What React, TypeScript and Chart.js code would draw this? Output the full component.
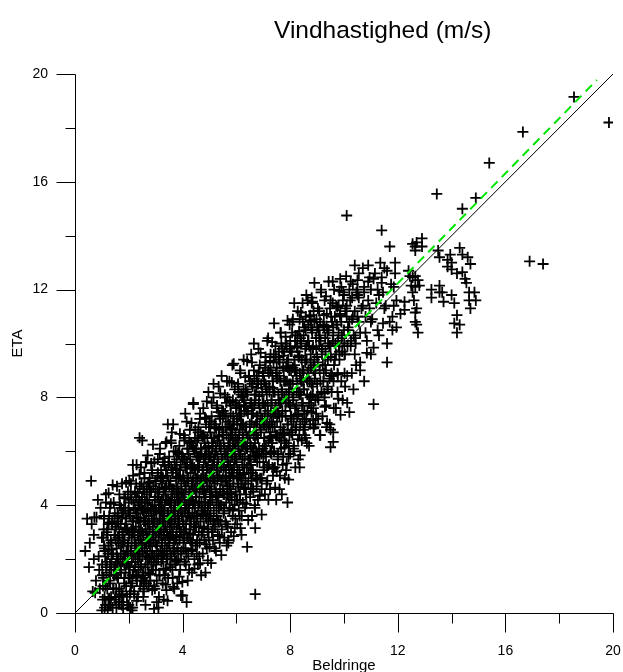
import React, { useEffect, useRef } from 'react';
import { Chart, registerables } from 'chart.js';

Chart.register(...registerables);

const chartTitle = 'Vindhastighed (m/s)';
const xTitle = 'Beldringe';
const yTitle = 'ETA';
const majorTicks = [0, 4, 8, 12, 16, 20];
const minorTicks = [2, 6, 10, 14, 18];
const identityLine: [number, number][] = [[0, 0], [20, 20]];
const fitLine: [number, number][] = [[0.65, 0.66], [19.4, 19.78]];

// Beldringe (x) vs ETA (y) wind speed pairs, m/s
const calmWind: [number, number][] = [
  [0.38,2.3],[0.45,3.5],[0.52,1.7],[0.6,4.9],[0.66,0.8],[0.7,2.9],[0.72,3.55],[0.78,1.2],[0.75,0.75],[0.88,2.1],[0.95,3.9],[0.55,2.6],[0.9,1.6],[0.92,0.9],[0.8,3.55],[0.7,2.0],[0.85,4.2],[0.62,3.3],
  [1.02,1.4],[1.05,2.8],[1.08,3.6],[1.1,0.6],[1.12,2.1],[1.15,4.4],[1.18,1.9],[1.2,3.1],[1.22,0.1],[1.25,2.5],[1.27,1.2],[1.3,3.9],[1.31,0.3],[1.33,2.7],[1.35,1.6],[1.38,3.4],[1.4,2.2],[1.42,0.9],[1.44,4.1],[1.45,1.4],[1.47,2.9],[1.48,3.7],[1.49,0.5],[1.36,2.0],[1.24,3.3],[1.25,4.45],
  [1.51,1.8],[1.52,3.2],[1.53,0.9],[1.55,2.4],[1.56,4.7],[1.58,1.3],[1.6,3.6],[1.61,2.0],[1.63,0.4],[1.65,2.9],[1.66,4.0],[1.68,1.6],[1.7,3.3],[1.71,2.5],[1.73,0.8],[1.75,4.8],[1.76,1.9],[1.78,3.0],[1.8,2.2],[1.81,3.8],[1.83,1.1],[1.85,2.7],[1.86,4.3],[1.88,1.5],[1.9,3.5],[1.91,2.3],[1.93,0.6],[1.95,3.1],[1.96,1.9],[1.97,4.5],[1.98,2.6],[1.99,1.3],[1.62,2.8],[1.72,3.9],[1.84,2.0],
  [2.0,0.3],[2.01,2.9],[2.02,4.9],[2.04,1.7],[2.05,3.6],[2.06,2.3],[2.08,1.0],[2.1,4.2],[2.11,2.8],[2.13,3.4],[2.14,1.4],[2.16,5.1],[2.17,2.1],[2.19,3.9],[2.2,0.7],[2.22,2.6],[2.23,4.5],[2.25,1.9],[2.26,3.2],[2.28,2.4],[2.29,5.5],[2.3,1.2],[2.32,3.7],[2.33,2.9],[2.35,4.0],[2.36,1.6],[2.38,3.0],[2.39,2.2],[2.4,6.5],[2.41,4.7],[2.42,1.0],[2.43,3.5],[2.44,2.7],[2.45,5.4],[2.46,1.8],[2.47,3.9],[2.48,2.5],[2.49,4.3],[2.12,3.0],[2.18,1.6],[2.27,4.8],[2.34,2.0],[2.37,3.4],[2.21,2.9],[2.45,3.1],[2.05,0.2],
  [2.5,6.4],[2.51,2.1],[2.52,3.8],[2.53,1.3],[2.54,4.6],[2.55,2.9],[2.56,0.8],[2.57,3.4],[2.58,5.2],[2.59,2.4],[2.6,4.1],[2.61,1.7],[2.62,3.1],[2.63,5.6],[2.64,2.6],[2.65,3.7],[2.66,1.1],[2.67,4.4],[2.68,2.2],[2.69,3.3],[2.7,5.85],[2.71,2.8],[2.72,4.8],[2.73,1.5],[2.74,3.6],[2.75,2.0],[2.76,4.2],[2.77,3.0],[2.78,5.0],[2.79,2.5],[2.8,1.2],[2.81,3.9],[2.82,2.7],[2.83,4.5],[2.84,1.9],[2.85,3.5],[2.86,5.3],[2.87,2.3],[2.88,4.0],[2.89,3.2],[2.9,1.6],[2.91,4.7],[2.92,2.9],[2.93,3.8],[2.94,2.1],[2.95,5.6],[2.96,3.4],[2.97,0.9],[2.98,4.3],[2.99,2.6],
  [3.0,3.0],[3.01,4.9],[3.02,1.8],[3.03,3.7],[3.04,0.4],[3.05,2.5],[3.06,4.3],[3.07,3.3],[3.08,5.7],[3.09,2.0],[3.1,0.2],[3.11,3.9],[3.12,2.8],[3.13,4.6],[3.14,1.4],[3.15,3.5],[3.16,6.1],[3.17,2.3],[3.18,4.1],[3.19,3.1],[3.2,5.3],[3.21,1.9],[3.22,3.8],[3.23,2.6],[3.24,4.8],[3.25,3.4],[3.26,1.1],[3.27,5.0],[3.28,2.9],[3.29,4.4],[3.3,0.5],[3.31,3.6],[3.32,2.2],[3.33,5.5],[3.34,4.0],[3.35,2.7],[3.36,3.2],[3.37,6.3],[3.38,1.6],[3.39,4.7],[3.4,0.85],[3.41,3.0],[3.42,2.4],[3.43,5.1],[3.44,3.7],[3.45,7.0],[3.46,1.3],[3.47,4.2],[3.48,2.8],[3.49,3.5],[3.12,4.0],[3.22,2.1],[3.36,4.5],[3.44,2.0],[3.28,3.8],
  [3.5,5.8],[3.51,2.5],[3.52,4.1],[3.53,3.2],[3.54,1.7],[3.55,4.9],[3.56,2.9],[3.57,6.4],[3.58,3.6],[3.59,2.1],[3.6,6.7],[3.61,4.4],[3.62,3.0],[3.63,1.3],[3.64,5.2],[3.65,0.97],[3.66,3.8],[3.67,2.6],[3.68,4.6],[3.69,3.3],[3.7,5.6],[3.71,2.2],[3.72,4.0],[3.73,1.9],[3.74,3.5],[3.75,6.0],[3.76,2.8],[3.77,4.7],[3.78,3.1],[3.79,5.3],[3.8,1.1],[3.81,4.2],[3.82,2.4],[3.83,3.7],[3.84,5.0],[3.85,2.0],[3.86,4.5],[3.87,3.4],[3.88,6.2],[3.89,2.7],[3.9,4.1],[3.91,1.6],[3.92,3.9],[3.93,5.5],[3.94,3.0],[3.95,4.8],[3.96,2.3],[3.97,3.6],[3.98,5.9],[3.99,1.15],[3.58,4.3],[3.68,2.3],[3.78,4.4],[3.88,3.2],[3.96,4.4]
];

const moderateWind: [number, number][] = [
  [4.0,0.65],[4.01,3.4],[4.02,5.1],[4.03,2.6],[4.04,4.4],[4.05,6.6],[4.06,3.0],[4.07,1.9],[4.08,5.7],[4.09,3.8],[4.1,7.4],[4.11,2.4],[4.12,4.7],[4.13,3.3],[4.14,5.4],[4.15,0.4],[4.16,4.0],[4.17,2.8],[4.18,6.1],[4.19,3.6],[4.2,4.9],[4.21,2.1],[4.22,5.9],[4.23,3.9],[4.24,1.6],[4.25,4.5],[4.26,3.1],[4.27,6.8],[4.28,2.7],[4.29,5.2],[4.3,4.2],[4.31,3.5],[4.32,6.3],[4.33,2.3],[4.34,4.8],[4.35,1.5],[4.36,3.7],[4.37,5.5],[4.38,4.1],[4.39,2.9],[4.4,7.8],[4.41,5.0],[4.42,3.3],[4.43,4.6],[4.44,2.0],[4.45,6.0],[4.46,3.9],[4.47,5.3],[4.48,2.5],[4.49,4.3],[4.06,4.9],[4.16,5.6],[4.26,4.1],[4.36,2.6],[4.46,6.5],
  [4.5,3.2],[4.51,5.8],[4.52,4.5],[4.53,2.2],[4.54,6.4],[4.55,3.6],[4.56,5.1],[4.57,1.8],[4.58,4.0],[4.59,6.9],[4.6,3.0],[4.61,5.5],[4.62,4.3],[4.63,2.6],[4.64,7.2],[4.65,1.85],[4.66,4.8],[4.67,3.4],[4.68,6.1],[4.69,5.0],[4.7,2.9],[4.71,4.1],[4.72,6.6],[4.73,3.7],[4.74,5.3],[4.75,2.2],[4.76,4.6],[4.77,7.6],[4.78,3.2],[4.79,5.7],[4.8,4.3],[4.81,2.7],[4.82,6.3],[4.83,3.9],[4.84,5.0],[4.85,1.5],[4.86,4.4],[4.87,7.0],[4.88,3.5],[4.89,5.9],[4.9,2.4],[4.91,4.9],[4.92,6.5],[4.93,3.1],[4.94,5.4],[4.95,4.0],[4.96,8.2],[4.97,2.8],[4.98,6.0],[4.99,4.7],[4.55,4.9],[4.65,5.8],[4.75,3.8],[4.85,5.6],[4.95,3.4],
  [5.0,2.45],[5.01,5.2],[5.02,4.1],[5.03,6.7],[5.04,3.5],[5.05,5.8],[5.06,1.85],[5.07,4.6],[5.08,7.3],[5.09,3.0],[5.1,5.5],[5.11,4.3],[5.12,6.2],[5.13,2.7],[5.14,5.0],[5.15,8.0],[5.16,3.8],[5.17,6.5],[5.18,4.8],[5.19,3.3],[5.2,3.2],[5.21,5.9],[5.22,7.0],[5.23,4.4],[5.24,2.3],[5.25,6.0],[5.26,5.3],[5.27,3.6],[5.28,7.7],[5.29,4.9],[5.3,6.4],[5.31,2.9],[5.32,5.6],[5.33,4.1],[5.34,8.4],[5.35,3.9],[5.36,6.8],[5.37,5.1],[5.38,2.6],[5.39,4.6],[5.4,7.2],[5.41,3.4],[5.42,6.1],[5.43,5.4],[5.44,4.0],[5.45,8.8],[5.46,3.1],[5.47,5.7],[5.48,6.6],[5.49,4.5],
  [5.5,5.0],[5.51,7.5],[5.52,3.7],[5.53,6.3],[5.54,4.4],[5.55,2.8],[5.56,5.8],[5.57,8.1],[5.58,4.9],[5.59,3.4],[5.6,6.9],[5.61,5.3],[5.62,4.1],[5.63,7.8],[5.64,2.5],[5.65,6.0],[5.66,4.7],[5.67,5.6],[5.68,3.2],[5.69,7.1],[5.7,2.6],[5.71,6.5],[5.72,4.3],[5.73,5.1],[5.74,8.6],[5.75,3.9],[5.76,6.2],[5.77,5.5],[5.78,4.6],[5.79,7.4],[5.8,3.0],[5.81,5.9],[5.82,6.8],[5.83,4.2],[5.84,5.2],[5.85,9.2],[5.86,3.6],[5.87,6.4],[5.88,4.8],[5.89,7.0],[5.9,2.85],[5.91,5.4],[5.92,6.1],[5.93,4.0],[5.94,8.3],[5.95,5.7],[5.96,3.5],[5.97,6.7],[5.98,4.5],[5.99,7.6],
  [6.0,5.6],[6.01,4.2],[6.02,7.2],[6.03,3.3],[6.04,6.4],[6.05,5.0],[6.06,8.5],[6.07,4.7],[6.08,6.0],[6.09,3.8],[6.1,7.7],[6.11,5.3],[6.12,6.8],[6.13,4.4],[6.14,9.0],[6.15,3.15],[6.16,5.9],[6.17,7.4],[6.18,4.9],[6.19,6.2],[6.2,3.6],[6.21,8.0],[6.22,5.5],[6.23,6.6],[6.24,4.1],[6.25,7.0],[6.26,5.2],[6.27,9.4],[6.28,6.3],[6.29,4.6],[6.3,7.9],[6.31,5.8],[6.32,3.9],[6.33,6.9],[6.34,5.0],[6.35,8.3],[6.36,4.4],[6.37,6.1],[6.38,7.5],[6.39,5.4],[6.4,2.45],[6.42,6.5],[6.44,4.8],[6.46,8.8],[6.48,5.7],
  [6.5,6.7],[6.51,4.3],[6.52,7.8],[6.53,5.5],[6.54,6.2],[6.55,9.6],[6.56,4.9],[6.57,7.1],[6.58,3.6],[6.59,6.0],[6.6,8.4],[6.61,5.3],[6.62,7.4],[6.63,4.5],[6.64,6.6],[6.65,9.0],[6.66,5.8],[6.67,7.7],[6.68,4.0],[6.69,6.3],[6.7,3.15],[6.71,8.1],[6.72,5.1],[6.73,7.0],[6.74,6.0],[6.75,4.7],[6.76,8.8],[6.77,5.6],[6.78,7.3],[6.79,6.5],[6.8,4.2],[6.82,9.8],[6.84,5.9],[6.86,7.6],[6.88,5.0],[6.9,6.8],[6.92,8.5],[6.94,4.6],[6.96,7.2],[6.98,6.1],[6.7,0.7],
  [7.0,7.0],[7.01,5.3],[7.03,8.6],[7.04,6.2],[7.06,4.4],[7.07,7.7],[7.09,9.3],[7.1,5.8],[7.12,6.9],[7.13,8.1],[7.15,4.9],[7.16,7.4],[7.18,10.2],[7.19,6.4],[7.21,5.5],[7.22,8.4],[7.24,7.0],[7.25,4.6],[7.27,6.7],[7.28,9.0],[7.3,5.9],[7.31,7.9],[7.33,6.3],[7.34,8.8],[7.36,5.1],[7.37,7.3],[7.39,9.6],[7.4,6.0],[7.42,8.2],[7.43,5.4],[7.45,7.6],[7.46,6.6],[7.48,4.2],[7.49,8.9],[7.5,5.25],[7.35,6.9],[7.45,9.9],[7.6,4.6],
  [7.51,7.1],[7.53,8.7],[7.55,5.9],[7.57,9.5],[7.59,6.5],[7.62,7.8],[7.64,10.4],[7.66,6.1],[7.68,8.3],[7.7,7.3],[7.72,5.5],[7.74,9.1],[7.76,6.8],[7.78,8.0],[7.8,5.0],[7.82,7.5],[7.84,10.0],[7.86,6.3],[7.88,8.6],[7.9,4.1],[7.91,7.0],[7.92,9.4],[7.94,5.8],[7.95,8.2],[7.97,6.6],[7.98,10.7],[7.99,7.7],[7.56,7.4],[7.7,9.8],[7.85,5.3],[7.96,9.0]
];

const freshWind: [number, number][] = [
  [8.0,5.9],[8.02,8.5],[8.04,7.2],[8.06,9.7],[8.08,6.6],[8.1,10.9],[8.12,8.0],[8.14,6.0],[8.16,9.2],[8.18,7.6],[8.2,10.3],[8.22,6.9],[8.24,8.8],[8.26,7.3],[8.28,11.2],[8.3,5.7],[8.32,9.5],[8.34,8.1],[8.35,5.4],[8.37,7.0],[8.39,10.0],[8.41,8.6],[8.43,6.4],[8.45,9.0],[8.46,11.5],[8.47,7.8],[8.49,6.8],[8.25,9.9],[8.35,10.9],
  [8.5,8.3],[8.52,10.6],[8.54,7.1],[8.56,9.3],[8.58,6.5],[8.6,11.8],[8.62,8.7],[8.64,7.5],[8.66,10.1],[8.68,9.0],[8.7,6.2],[8.72,11.0],[8.74,8.0],[8.76,9.6],[8.78,7.7],[8.8,11.7],[8.8,11.5],[8.75,11.05],[8.82,10.4],[8.84,8.4],[8.85,7.15],[8.86,9.2],[8.88,6.9],[8.9,10.8],[8.93,8.9],[8.96,7.4],
  [9.0,9.5],[9.03,11.3],[9.05,7.9],[9.08,10.2],[9.1,6.6],[9.12,8.6],[9.15,12.0],[9.18,9.8],[9.2,7.3],[9.23,10.7],[9.25,8.9],[9.28,11.6],[9.3,9.2],[9.33,7.7],[9.35,6.9],[9.38,10.4],[9.4,8.3],[9.43,12.3],[9.45,9.9],[9.47,7.0],[9.5,6.8],[9.5,6.15],
  [9.52,11.0],[9.55,8.8],[9.58,10.1],[9.6,6.7],[9.6,6.35],[9.63,12.0],[9.66,9.4],[9.7,7.6],[9.73,10.7],[9.76,8.2],[9.8,11.4],[9.83,9.7],[9.86,12.4],[9.9,8.6],[9.92,10.3],[9.95,7.9],[9.97,11.9],[9.9,12.1],
  [10.02,9.6],[10.05,11.2],[10.1,14.75],[10.12,8.8],[10.15,10.6],[10.2,12.0],[10.2,7.45],[10.25,9.9],[10.3,11.7],[10.35,8.3],[10.4,12.9],[10.42,10.2],[10.45,9.2],[10.5,12.35],
  [10.5,12.0],[10.5,11.8],[10.55,10.8],[10.6,9.0],[10.65,11.3],[10.7,12.8],[10.75,8.6],[10.8,10.4],[10.85,9.65],[10.9,11.6],[10.95,12.45],[11.0,12.0],
  [11.05,10.9],[11.1,9.85],[11.1,7.75],[11.2,11.5],[11.25,12.0],[11.3,10.3],[11.4,14.2],[11.4,12.45],[11.4,12.25],[11.45,10.75],[11.6,10.0],[11.6,9.3],[11.7,13.6],[11.8,11.0],[11.8,10.5],[11.95,10.6],[11.95,11.6],[11.5,11.3],[11.75,12.2]
];

const denseCore: [number, number][] = [
  [1.0,0.1],[1.03,0.5],[1.06,1.3],[1.01,1.8],[1.08,2.5],[1.04,1.0],[1.07,3.1],
  [1.1,0.2],[1.13,1.0],[1.16,1.7],[1.11,2.3],[1.18,3.0],[1.14,0.3],[1.17,1.5],
  [1.2,0.9],[1.23,2.2],[1.26,0.3],[1.21,2.9],[1.28,1.4],[1.24,0.5],[1.27,3.6],
  [1.3,1.8],[1.33,0.3],[1.36,2.6],[1.31,1.1],[1.38,3.3],[1.34,0.6],[1.37,2.2],
  [1.4,0.2],[1.43,0.9],[1.46,1.7],[1.41,2.2],[1.48,2.9],[1.44,1.4],[1.47,3.5],
  [1.5,0.6],[1.53,1.4],[1.56,2.1],[1.51,2.7],[1.58,3.4],[1.54,0.2],[1.57,1.9],
  [1.6,1.3],[1.63,2.6],[1.66,0.4],[1.61,3.3],[1.68,1.8],[1.64,0.9],[1.67,4.0],
  [1.7,2.2],[1.73,0.7],[1.76,3.0],[1.71,1.5],[1.78,3.7],[1.74,0.3],[1.77,2.6],
  [1.8,0.4],[1.83,1.3],[1.86,2.1],[1.81,2.6],[1.88,3.3],[1.84,1.8],[1.87,3.9],
  [1.9,1.0],[1.93,1.8],[1.96,2.5],[1.91,3.1],[1.98,3.8],[1.94,0.3],[1.97,2.3],
  [2.0,1.7],[2.03,3.0],[2.06,0.8],[2.01,3.7],[2.08,2.2],[2.04,1.3],[2.07,4.4],
  [2.1,2.6],[2.13,1.1],[2.16,3.4],[2.11,1.9],[2.18,4.1],[2.14,0.2],[2.17,3.0],
  [2.2,0.8],[2.23,1.7],[2.26,2.5],[2.21,3.0],[2.28,3.7],[2.24,2.2],[2.27,4.3],
  [2.3,1.4],[2.33,2.2],[2.36,2.9],[2.31,3.5],[2.38,4.2],[2.34,0.6],[2.37,2.7],
  [2.4,2.1],[2.43,3.4],[2.46,1.2],[2.41,4.1],[2.48,2.6],[2.44,1.7],[2.47,4.8],
  [2.5,3.0],[2.53,1.5],[2.56,3.8],[2.51,2.3],[2.58,4.5],[2.54,0.6],[2.57,3.4],
  [2.6,1.2],[2.63,2.1],[2.66,2.9],[2.61,3.4],[2.68,4.1],[2.64,2.6],[2.67,4.7],
  [2.7,1.8],[2.73,2.6],[2.76,3.3],[2.71,3.9],[2.78,4.6],[2.74,1.0],[2.77,3.1],
  [2.8,2.5],[2.83,3.8],[2.86,1.6],[2.81,4.5],[2.88,3.0],[2.84,2.1],[2.87,5.2],
  [2.9,3.4],[2.93,1.9],[2.96,4.2],[2.91,2.7],[2.98,4.9],[2.94,1.0],[2.97,3.8],
  [3.0,1.6],[3.03,2.5],[3.06,3.3],[3.01,3.8],[3.08,4.5],[3.04,3.0],[3.07,5.1],
  [3.1,2.2],[3.13,3.0],[3.16,3.7],[3.11,4.3],[3.18,5.0],[3.14,1.4],[3.17,3.5],
  [3.2,2.9],[3.23,4.2],[3.26,2.0],[3.21,4.9],[3.28,3.4],[3.24,2.5],[3.27,5.6],
  [3.3,3.8],[3.33,2.3],[3.36,4.6],[3.31,3.1],[3.38,5.3],[3.34,1.4],[3.37,4.2],
  [3.4,2.0],[3.43,2.9],[3.46,3.7],[3.41,4.2],[3.48,4.9],[3.44,3.4],[3.47,5.5],
  [3.5,2.6],[3.53,3.4],[3.56,4.1],[3.51,4.7],[3.58,5.4],[3.54,1.8],[3.57,3.9],
  [3.6,3.3],[3.63,4.6],[3.66,2.4],[3.61,5.3],[3.68,3.8],[3.64,2.9],[3.67,6.0],
  [3.7,4.2],[3.73,2.7],[3.76,5.0],[3.71,3.5],[3.78,5.7],[3.74,1.8],[3.77,4.6],
  [3.8,2.4],[3.83,3.3],[3.86,4.1],[3.81,4.6],[3.88,5.3],[3.84,3.8],[3.87,5.9],
  [3.9,3.0],[3.93,3.8],[3.96,4.5],[3.91,5.1],[3.98,5.8],[3.94,2.2],[3.97,4.3],
  [4.0,3.7],[4.03,5.0],[4.06,2.8],[4.01,5.7],[4.08,4.2],[4.04,3.3],[4.07,6.4],
  [4.1,4.6],[4.13,3.1],[4.16,5.4],[4.11,3.9],[4.18,6.1],[4.14,2.2],[4.17,5.0],
  [4.2,2.8],[4.23,3.7],[4.26,4.5],[4.21,5.0],[4.28,5.7],[4.24,4.2],[4.27,6.3],
  [4.3,3.4],[4.33,4.2],[4.36,4.9],[4.31,5.5],[4.38,6.2],[4.34,2.6],[4.37,4.7],
  [4.4,4.1],[4.43,5.4],[4.46,3.2],[4.41,6.1],[4.48,4.6],[4.44,3.7],[4.47,6.8],
  [4.5,5.0],[4.53,3.5],[4.56,5.8],[4.51,4.3],[4.58,6.5],[4.54,2.6],[4.57,5.4],
  [4.6,3.2],[4.63,4.1],[4.66,4.9],[4.61,5.4],[4.68,6.1],[4.64,4.6],[4.67,6.7],
  [4.7,3.8],[4.73,4.6],[4.76,5.3],[4.71,5.9],[4.78,6.6],[4.74,3.0],[4.77,5.1],
  [4.8,4.5],[4.83,5.8],[4.86,3.6],[4.81,6.5],[4.88,5.0],[4.84,4.1],[4.87,7.2],
  [4.9,5.4],[4.93,3.9],[4.96,6.2],[4.91,4.7],[4.98,6.9],[4.94,3.0],[4.97,5.8],
  [5.0,3.6],[5.03,4.5],[5.06,5.3],[5.01,5.8],[5.08,6.5],[5.04,5.0],[5.07,7.1],
  [5.1,4.2],[5.13,5.0],[5.16,5.7],[5.11,6.3],[5.18,7.0],[5.14,3.4],[5.17,5.5],
  [5.2,4.9],[5.23,6.2],[5.26,4.0],[5.21,6.9],[5.28,5.4],[5.24,4.5],[5.27,7.6],
  [5.3,5.8],[5.33,4.3],[5.36,6.6],[5.31,5.1],[5.38,7.3],[5.34,3.4],[5.37,6.2],
  [5.4,4.0],[5.43,4.9],[5.46,5.7],[5.41,6.2],[5.48,6.9],[5.44,5.4],[5.47,7.5],
  [5.5,4.6],[5.53,5.4],[5.56,6.1],[5.51,6.7],[5.58,7.4],[5.54,3.8],[5.57,5.9],
  [5.6,5.3],[5.63,6.6],[5.66,4.4],[5.61,7.3],[5.68,5.8],[5.64,4.9],[5.67,8.0],
  [5.7,6.2],[5.73,4.7],[5.76,7.0],[5.71,5.5],[5.78,7.7],[5.74,3.8],[5.77,6.6],
  [5.8,4.4],[5.83,5.3],[5.86,6.1],[5.81,6.6],[5.88,7.3],[5.84,5.8],[5.87,7.9],
  [5.9,5.0],[5.93,5.8],[5.96,6.5],[5.91,7.1],[5.98,7.8],[5.94,4.2],[5.97,6.3],
  [6.0,5.7],[6.03,7.0],[6.06,4.8],[6.01,7.7],[6.08,6.2],[6.04,5.3],[6.07,8.4],
  [6.1,6.6],[6.13,5.1],[6.16,7.4],[6.11,5.9],[6.18,8.1],[6.14,4.2],[6.17,7.0],
  [6.2,4.8],[6.23,5.7],[6.26,6.5],[6.21,7.0],[6.28,7.7],[6.24,6.2],[6.27,8.3],
  [6.3,5.4],[6.33,6.2],[6.36,6.9],[6.31,7.5],[6.38,8.2],[6.34,4.6],[6.37,6.7],
  [6.4,6.1],[6.43,7.4],[6.46,5.2],[6.41,8.1],[6.48,6.6],[6.44,5.7],[6.47,8.8],
  [6.5,7.0],[6.53,5.5],[6.56,7.8],[6.51,6.3],[6.58,8.5],[6.54,4.6],[6.57,7.4],
  [6.6,5.2],[6.63,6.1],[6.66,6.9],[6.61,7.4],[6.68,8.1],[6.64,6.6],[6.67,8.7],
  [6.7,5.8],[6.73,6.6],[6.76,7.3],[6.71,7.9],[6.78,8.6],[6.74,5.0],[6.77,7.1],
  [6.8,6.5],[6.83,7.8],[6.86,5.6],[6.81,8.5],[6.88,7.0],[6.84,6.1],[6.87,9.2],
  [6.9,7.4],[6.93,5.9],[6.96,8.2],[6.91,6.7],[6.98,8.9],[6.94,5.0],[6.97,7.8],
  [7.0,5.6],[7.03,6.5],[7.06,7.3],[7.01,7.8],[7.08,8.5],[7.04,7.0],[7.07,9.1],
  [7.1,6.2],[7.13,7.0],[7.16,7.7],[7.11,8.3],[7.18,9.0],[7.14,5.4],[7.17,7.5],
  [7.2,6.9],[7.23,8.2],[7.26,6.0],[7.21,8.9],[7.28,7.4],[7.24,6.5],[7.27,9.6],
  [7.3,7.8],[7.33,6.3],[7.36,8.6],[7.31,7.1],[7.38,9.3],[7.34,5.4],[7.37,8.2],
  [7.4,6.0],[7.43,6.9],[7.46,7.7],[7.41,8.2],[7.48,8.9],[7.44,7.4],[7.47,9.5],
  [7.5,6.6],[7.53,7.4],[7.56,8.1],[7.51,8.7],[7.58,9.4],[7.54,5.8],[7.57,7.9],
  [7.6,7.3],[7.63,8.6],[7.66,6.4],[7.61,9.3],[7.68,7.8],[7.64,6.9],[7.67,10.0],
  [7.7,8.2],[7.73,6.7],[7.76,9.0],[7.71,7.5],[7.78,9.7],[7.74,5.8],[7.77,8.6],
  [7.8,6.4],[7.83,7.3],[7.86,8.1],[7.81,8.6],[7.88,9.3],[7.84,7.8],[7.87,9.9],
  [7.9,7.0],[7.93,7.8],[7.96,8.5],[7.91,9.1],[7.98,9.8],[7.94,6.2],[7.97,8.3],
  [8.0,7.7],[8.03,9.0],[8.06,6.8],[8.01,9.7],[8.08,8.2],[8.04,7.3],[8.07,10.4],
  [8.1,8.6],[8.13,7.1],[8.16,9.4],[8.11,7.9],[8.18,10.1],[8.14,6.2],[8.17,9.0],
  [8.2,6.8],[8.23,7.7],[8.26,8.5],[8.21,9.0],[8.28,9.7],[8.24,8.2],[8.27,10.3],
  [8.3,7.4],[8.33,8.2],[8.36,8.9],[8.31,9.5],[8.38,10.2],[8.34,6.6],[8.37,8.7],
  [8.4,8.1],[8.43,9.4],[8.46,7.2],[8.41,10.1],[8.48,8.6],[8.44,7.7],[8.47,10.8],
  [8.5,9.0],[8.53,7.5],[8.56,9.8],[8.51,8.3],[8.58,10.5],[8.54,6.6],[8.57,9.4],
  [8.6,7.2],[8.63,8.1],[8.66,8.9],[8.61,9.4],[8.68,10.1],[8.64,8.6],[8.67,10.7],
  [8.7,7.8],[8.73,8.6],[8.76,9.3],[8.71,9.9],[8.78,10.6],[8.74,7.0],[8.77,9.1],
  [8.8,8.5],[8.83,9.8],[8.86,7.6],[8.81,10.5],[8.88,9.0],[8.84,8.1],[8.87,11.2],
  [8.9,9.4],[8.93,7.9],[8.96,10.2],[8.91,8.7],[8.98,10.9],[8.94,7.0],[8.97,9.8],
  [9.0,8.5],[9.03,9.3],[9.06,10.5],[9.01,8.0],[9.08,9.9],
  [9.1,9.0],[9.13,10.1],[9.16,8.2],[9.11,10.8],[9.18,9.6],
  [9.2,9.8],[9.23,8.6],[9.26,10.6],[9.21,9.2],[9.28,8.0],
  [9.3,10.2],[9.33,9.0],[9.36,11.1],[9.31,9.7],[9.38,8.4],
  [9.4,9.4],[9.43,10.5],[9.46,8.7],[9.41,10.0],[9.48,11.3],
  [9.5,9.9],[9.53,8.9],[9.56,10.8],[9.51,9.5],[9.58,11.5],
  [9.6,10.3],[9.63,9.2],[9.66,11.0],[9.61,8.6],[9.68,10.0],
  [9.7,9.6],[9.73,10.7],[9.76,8.9],[9.71,11.4],[9.78,10.1],
  [9.8,10.4],[9.83,9.4],[9.86,11.1],[9.81,9.9],
  [9.9,10.8],[9.93,9.7],[9.96,11.6],[9.91,10.2],
  [10.0,10.5],[10.03,9.6],[10.06,11.3],[10.01,10.0],
  [10.1,11.0],[10.13,9.9],[10.16,10.5],
  [10.2,10.8],[10.23,11.6],[10.26,10.1],
  [10.3,10.9],[10.33,12.2],[10.36,10.3],
  [10.4,11.2],[10.43,10.0],[10.46,11.9],
  [10.5,11.0],[10.55,11.7],[10.6,10.4],
  [10.7,11.4],[10.75,12.1],[10.8,11.0],
  [10.9,12.3],[10.95,11.3],[11.0,10.8],
  [11.15,12.6],[11.3,11.8],[11.5,12.8],[11.55,11.4],[11.85,12.1],[11.9,13.0]
];

const outerBand: [number, number][] = [
  [1.0,2.8],[1.08,3.5],[1.15,4.1],[1.1,2.4],
  [1.25,3.35],[1.33,4.05],[1.4,4.75],[1.35,2.35],[1.27,0.55],
  [1.5,3.1],[1.58,3.7],[1.65,4.4],[1.6,2.8],[1.52,0.6],
  [1.75,3.55],[1.83,4.25],[1.9,4.85],[1.79,0.15],[1.85,3.15],[1.77,0.65],
  [2.0,4.1],[2.08,4.8],[2.15,5.5],[2.04,0.7],[2.12,0.1],[2.1,3.1],[2.02,1.3],
  [2.25,3.85],[2.33,4.45],[2.4,5.15],[2.29,0.45],[2.35,3.55],[2.27,1.35],
  [2.5,4.3],[2.58,5.0],[2.65,5.6],[2.54,0.9],[2.62,0.3],[2.6,3.9],[2.52,1.4],
  [2.75,4.85],[2.83,5.55],[2.9,6.25],[2.79,1.45],[2.87,0.85],[2.94,0.15],[2.85,3.85],[2.77,2.05],
  [3.0,4.6],[3.08,5.2],[3.15,5.9],[3.04,1.2],[3.12,0.6],[3.1,4.3],[3.02,2.1],
  [3.25,5.05],[3.33,5.75],[3.4,6.35],[3.29,1.65],[3.37,1.05],[3.44,0.45],[3.35,4.65],[3.27,2.15],
  [3.5,5.6],[3.58,6.3],[3.65,7.0],[3.54,2.2],[3.62,1.6],[3.69,0.9],[3.6,4.6],[3.52,2.8],
  [3.75,5.35],[3.83,5.95],[3.9,6.65],[3.79,1.95],[3.87,1.35],[3.94,0.65],[3.85,5.05],[3.77,2.85],
  [4.0,5.8],[4.08,6.5],[4.15,7.1],[4.04,2.4],[4.12,1.8],[4.19,1.2],[4.1,5.4],[4.02,2.9],
  [4.25,6.35],[4.33,7.05],[4.4,7.75],[4.29,2.95],[4.37,2.35],[4.44,1.65],[4.35,5.35],[4.27,3.55],
  [4.5,6.1],[4.58,6.7],[4.65,7.4],[4.54,2.7],[4.62,2.1],[4.69,1.4],[4.6,5.8],[4.52,3.6],
  [4.75,6.55],[4.83,7.25],[4.9,7.85],[4.79,3.15],[4.87,2.55],[4.94,1.95],[4.85,6.15],[4.77,3.65],
  [5.0,7.1],[5.08,7.8],[5.15,8.5],[5.04,3.7],[5.12,3.1],[5.19,2.4],[5.1,6.1],[5.02,4.3],
  [5.25,6.85],[5.33,7.45],[5.4,8.15],[5.29,3.45],[5.37,2.85],[5.44,2.15],[5.35,6.55],[5.27,4.35],
  [5.5,7.3],[5.58,8.0],[5.65,8.6],[5.54,3.9],[5.62,3.3],[5.69,2.7],[5.6,6.9],[5.52,4.4],
  [5.75,7.85],[5.83,8.55],[5.9,9.25],[5.79,4.45],[5.87,3.85],[5.94,3.15],[5.85,6.85],[5.77,5.05],
  [6.0,7.6],[6.08,8.2],[6.15,8.9],[6.04,4.2],[6.12,3.6],[6.19,2.9],[6.1,7.3],[6.02,5.1],
  [6.25,8.05],[6.33,8.75],[6.4,9.35],[6.29,4.65],[6.37,4.05],[6.44,3.45],[6.35,7.65],[6.27,5.15],
  [6.5,8.6],[6.58,9.3],[6.65,10.0],[6.54,5.2],[6.62,4.6],[6.69,3.9],[6.6,7.6],[6.52,5.8],
  [6.75,8.35],[6.83,8.95],[6.9,9.65],[6.79,4.95],[6.87,4.35],[6.94,3.65],[6.85,8.05],[6.77,5.85],
  [7.0,8.8],[7.08,9.5],[7.15,10.1],[7.04,5.4],[7.12,4.8],[7.19,4.2],[7.1,8.4],[7.02,5.9],
  [7.25,9.35],[7.33,10.05],[7.4,10.75],[7.29,5.95],[7.37,5.35],[7.44,4.65],[7.35,8.35],[7.27,6.55],
  [7.5,9.1],[7.58,9.7],[7.65,10.4],[7.54,5.7],[7.62,5.1],[7.69,4.4],[7.6,8.8],[7.52,6.6],
  [7.75,9.55],[7.83,10.25],[7.9,10.85],[7.79,6.15],[7.87,5.55],[7.94,4.95],[7.85,9.15],[7.77,6.65],
  [8.0,10.1],[8.08,10.8],[8.15,11.5],[8.04,6.7],[8.12,6.1],[8.19,5.4],[8.1,9.1],[8.02,7.3],
  [8.25,9.85],[8.33,10.45],[8.4,11.15],[8.29,6.45],[8.37,5.85],[8.35,9.55],[8.27,7.35],
  [8.5,10.3],[8.58,11.0],[8.65,11.6],[8.54,6.9],[8.62,6.3],[8.6,9.9],[8.52,7.4],
  [8.75,10.85],[8.83,11.55],[8.9,12.25],[8.79,7.45],[8.87,6.85],[8.85,9.85],[8.77,8.05],
  [9.0,10.6],[9.08,11.2],[9.15,11.9],[9.04,7.2],[9.12,6.6],[9.1,10.3],[9.02,8.1],
  [9.25,11.05],[9.33,11.75],[9.29,7.65],[9.37,7.05],[9.35,10.65],[9.27,8.15],
  [9.5,11.6],[9.58,12.3],[9.54,8.2],[9.62,7.6],[9.6,10.6],[9.52,8.8],
  [9.75,11.35],[9.83,11.95],[9.79,7.95],[9.87,7.35],[9.85,11.05],[9.77,8.85],
  [10.0,11.8],[10.08,12.5],[10.04,8.4],[10.12,7.8],[10.1,11.4],[10.02,8.9],
  [10.25,12.3],[10.33,11.0],[10.29,8.9],[10.4,9.6],[10.55,12.6],[10.6,9.3],[10.75,11.9],[10.85,10.1],[10.9,12.9],[11.0,9.6],[11.1,12.4],[11.25,10.5],[11.35,13.0],[11.45,11.9],[11.6,12.7],[11.7,10.8],[11.85,11.4],[11.9,12.6]
];

const strongWind: [number, number][] = [
  [12.1,11.1],[12.25,11.25],[12.25,11.55],[12.4,12.7],[12.45,12.5],[12.5,12.15],[12.55,13.7],[12.55,12.45],[12.55,11.9],[12.6,11.6],[12.65,13.45],[12.65,13.6],[12.65,12.1],[12.65,12.5],[12.65,11.15],[12.65,10.8],[12.7,13.75],[12.7,11.3],[12.7,10.7],[12.75,12.35],[12.75,10.4],[12.8,12.15],[12.9,13.6],[12.9,13.9],[13.25,12.0],[13.25,11.7],[13.45,15.55],[13.5,13.45],[13.55,13.2],[13.55,12.15],[13.55,11.9],[13.65,11.9],[13.7,11.55],[13.85,13.1],[13.85,12.85],[13.95,13.3],[14.0,13.0],[14.0,12.75],[14.0,11.8],[14.1,11.5],[14.1,10.75],[14.2,12.6],[14.2,11.05],[14.2,10.4],[14.3,13.55],[14.3,10.7],[14.4,15.0],[14.4,13.3],[14.4,12.65],[14.5,12.4],[14.55,12.25],[14.6,13.2],[14.65,11.9],[14.65,11.6],[14.7,12.95],[14.7,11.3],[14.85,11.9],[14.9,15.4],[14.9,11.6],[15.4,16.7],[16.65,17.85],[16.9,13.05],[17.4,12.95],[18.55,19.15],[19.85,18.2]
];

const FONT = '"Liberation Sans", Arial, Helvetica, sans-serif';

const toXY = (arr: [number, number][]) => arr.map(([x, y]) => ({ x, y }));

const axesPlugin = {
  id: 'axesAndTitle',
  afterDraw(chart: any) {
    const { ctx, chartArea, scales } = chart;
    const xs = scales.x;
    const ys = scales.y;
    const xLeft = Math.round(xs.getPixelForValue(xs.min)) + 0.5;
    const xRight = Math.round(xs.getPixelForValue(xs.max)) + 0.5;
    const yBottom = Math.round(ys.getPixelForValue(ys.min)) + 0.5;
    const yTop = Math.round(ys.getPixelForValue(ys.max)) + 0.5;
    const majorLen = 19;
    const minorLen = 10;
    ctx.save();
    ctx.strokeStyle = '#000';
    ctx.lineWidth = 1;
    ctx.beginPath();
    ctx.moveTo(xLeft, yTop);
    ctx.lineTo(xLeft, yBottom);
    ctx.moveTo(xLeft - majorLen, yBottom);
    ctx.lineTo(xRight, yBottom);
    const drawTick = (v: number, len: number) => {
      const px = Math.round(xs.getPixelForValue(v)) + 0.5;
      ctx.moveTo(px, yBottom);
      ctx.lineTo(px, yBottom + len);
      const py = Math.round(ys.getPixelForValue(v)) + 0.5;
      ctx.moveTo(xLeft, py);
      ctx.lineTo(xLeft - len, py);
    };
    majorTicks.forEach((v) => drawTick(v, majorLen));
    minorTicks.forEach((v) => drawTick(v, minorLen));
    ctx.stroke();
    ctx.fillStyle = '#000';
    ctx.font = `24.5px ${FONT}`;
    ctx.textAlign = 'center';
    ctx.textBaseline = 'alphabetic';
    ctx.fillText(chartTitle, chartArea.left + (chartArea.right - chartArea.left) * 0.572, chartArea.top - 36);
    ctx.restore();
  },
};

export default function App() {
  const ref = useRef<HTMLCanvasElement>(null);
  useEffect(() => {
    if (!ref.current) return;
    const chart = new Chart(ref.current, {
      type: 'scatter',
      data: {
        datasets: [
          {
            data: toXY(fitLine),
            showLine: true,
            borderColor: 'rgb(0,230,0)',
            borderWidth: 2,
            borderDash: [9, 6],
            pointRadius: 0,
          },
          {
            data: toXY(identityLine),
            showLine: true,
            borderColor: '#000',
            borderWidth: 1,
            pointRadius: 0,
          },
          {
            data: [...toXY(calmWind), ...toXY(moderateWind), ...toXY(freshWind), ...toXY(denseCore), ...toXY(outerBand), ...toXY(strongWind)],
            pointStyle: 'cross',
            pointRadius: 5.5,
            borderColor: '#000',
            backgroundColor: '#000',
            borderWidth: 1.8,
          },
        ],
      } as any,
      options: {
        responsive: false,
        animation: false,
        events: [],
        layout: { padding: { left: 0, top: 74, right: 10, bottom: 0 } },
        plugins: { legend: { display: false }, tooltip: { enabled: false }, title: { display: false } },
        scales: {
          x: {
            type: 'linear',
            min: 0,
            max: 20,
            afterBuildTicks: (s: any) => { s.ticks = majorTicks.map((v) => ({ value: v })); },
            afterFit: (s: any) => { s.height = 59; s.paddingLeft = 0; s.paddingRight = 0; },
            grid: { display: false, drawTicks: false },
            border: { display: false },
            ticks: { color: '#000', font: { family: FONT, size: 14 }, padding: 30, maxRotation: 0, autoSkip: false },
            title: { display: true, text: xTitle, color: '#000', font: { family: FONT, size: 15, lineHeight: 0.8 }, padding: { top: 0, bottom: 0 } },
          },
          y: {
            type: 'linear',
            min: 0,
            max: 20,
            afterBuildTicks: (s: any) => { s.ticks = majorTicks.map((v) => ({ value: v })); },
            afterFit: (s: any) => { s.width = 75; s.paddingTop = 0; s.paddingBottom = 0; },
            grid: { display: false, drawTicks: false },
            border: { display: false },
            ticks: { color: '#000', font: { family: FONT, size: 14 }, padding: 27, autoSkip: false },
            title: { display: true, text: yTitle, color: '#000', font: { family: FONT, size: 15, lineHeight: 1.2 }, padding: { top: 9, bottom: 0 } },
          },
        },
      } as any,
      plugins: [axesPlugin],
    });
    return () => chart.destroy();
  }, []);
  return (
    <div style={{ position: 'absolute', left: 0, top: 0, width: 623, height: 672, background: '#fff' }}>
      <canvas ref={ref} width={623} height={672} style={{ display: 'block' }} />
    </div>
  );
}
